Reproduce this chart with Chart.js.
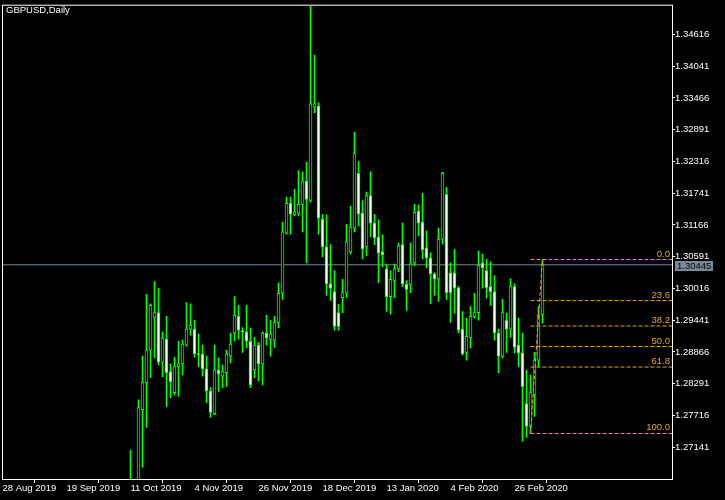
<!DOCTYPE html>
<html>
<head>
<meta charset="utf-8">
<script src="https://cdn.jsdelivr.net/npm/chart.js@4.4.1/dist/chart.umd.min.js"></script>
<style>
    html, body { margin: 0; padding: 0; background: #000; }
    #wrap { width: 725px; height: 500px; }
</style>
</head>
<body>
<div id="wrap"><canvas id="myChart" width="725" height="500"></canvas></div>
<script>
// x axis labels, one every 16 daily bars starting at bar 0 (28 Aug 2019)
const tickLabels = [
    "28 Aug 2019", "19 Sep 2019", "11 Oct 2019", "4 Nov 2019", "26 Nov 2019",
    "18 Dec 2019", "13 Jan 2020", "4 Feb 2020", "26 Feb 2020",
];
const barsPerLabel = 16;
const firstBar = 32; // 11 Oct 2019, older bars are below the visible range

// daily candles 11 Oct 2019 .. 6 Mar 2020
const opens = [
    1.2600, 1.2640, 1.2610, 1.2782, 1.2831, 1.2890, 1.2949, 1.2958,
    1.2868, 1.2910, 1.2851, 1.2813, 1.2860, 1.2865, 1.2899, 1.2928,
    1.2928, 1.2883, 1.2883, 1.2856, 1.2816, 1.2775, 1.2854, 1.2843,
    1.2849, 1.2879, 1.2921, 1.2951, 1.2924, 1.2923, 1.2906, 1.2854,
    1.2899, 1.2865, 1.2921, 1.2910, 1.2908, 1.2940, 1.2993, 1.3102,
    1.3156, 1.3135, 1.3138, 1.3154, 1.3196, 1.3161, 1.3330, 1.3332,
    1.3127, 1.3077, 1.3010, 1.2996, 1.2958, 1.2985, 1.2993, 1.3068,
    1.3111, 1.3210, 1.3138, 1.3077, 1.3170, 1.3120, 1.3095, 1.3068,
    1.3037, 1.2987, 1.3016, 1.3037, 1.3081, 1.3009, 1.3009, 1.3048,
    1.3142, 1.3122, 1.3075, 1.3057, 1.3028, 1.3019, 1.3091, 1.3172,
    1.3030, 1.3030, 1.3003, 1.2928, 1.2886, 1.2912, 1.2951, 1.2958,
    1.3048, 1.3034, 1.3005, 1.2996, 1.2921, 1.2879, 1.2944, 1.2928,
    1.3005, 1.2899, 1.2885, 1.2793, 1.2752, 1.2809, 1.2872, 1.2955,
];
const highs = [
    1.2709, 1.2650, 1.2800, 1.2879, 1.2991, 1.2974, 1.3014, 1.3002,
    1.2923, 1.2951, 1.2865, 1.2877, 1.2906, 1.2908, 1.2976, 1.2974,
    1.2944, 1.2919, 1.2899, 1.2879, 1.2822, 1.2899, 1.2876, 1.2863,
    1.2890, 1.2921, 1.2987, 1.2971, 1.2931, 1.2971, 1.2930, 1.2913,
    1.2904, 1.2923, 1.2953, 1.2944, 1.2951, 1.3012, 1.3122, 1.3167,
    1.3167, 1.3181, 1.3215, 1.3213, 1.3230, 1.3514, 1.3424, 1.3338,
    1.3136, 1.3135, 1.3081, 1.3034, 1.2973, 1.3018, 1.3118, 1.3151,
    1.3285, 1.3232, 1.3161, 1.3176, 1.3213, 1.3136, 1.3126, 1.3099,
    1.3046, 1.3034, 1.3046, 1.3084, 1.3120, 1.3016, 1.3084, 1.3154,
    1.3153, 1.3174, 1.3106, 1.3066, 1.3030, 1.3111, 1.3212, 1.3185,
    1.3048, 1.3072, 1.3005, 1.2960, 1.2948, 1.2969, 1.2993, 1.3070,
    1.3064, 1.3055, 1.3050, 1.3025, 1.2928, 1.2982, 1.2957, 1.3019,
    1.3010, 1.2948, 1.2921, 1.2854, 1.2845, 1.2886, 1.2969, 1.3054,
];
const lows = [
    1.2590, 1.2570, 1.2600, 1.2678, 1.2750, 1.2840, 1.2876, 1.2863,
    1.2842, 1.2788, 1.2804, 1.2809, 1.2806, 1.2845, 1.2897, 1.2917,
    1.2877, 1.2860, 1.2843, 1.2795, 1.2768, 1.2773, 1.2815, 1.2822,
    1.2824, 1.2867, 1.2906, 1.2910, 1.2886, 1.2894, 1.2822, 1.2840,
    1.2834, 1.2827, 1.2899, 1.2879, 1.2895, 1.2930, 1.2982, 1.3100,
    1.3100, 1.3133, 1.3133, 1.3104, 1.3048, 1.3158, 1.3320, 1.3100,
    1.3059, 1.2989, 1.2980, 1.2926, 1.2926, 1.2958, 1.2985, 1.3064,
    1.3104, 1.3115, 1.3055, 1.3061, 1.3095, 1.3081, 1.3012, 1.3041,
    1.2960, 1.2955, 1.2985, 1.3032, 1.3005, 1.2962, 1.2994, 1.3043,
    1.3097, 1.3055, 1.3039, 1.2974, 1.2989, 1.2978, 1.3082, 1.2982,
    1.2940, 1.2957, 1.2921, 1.2881, 1.2872, 1.2894, 1.2948, 1.2944,
    1.3002, 1.2984, 1.2971, 1.2908, 1.2849, 1.2876, 1.2886, 1.2913,
    1.2885, 1.2860, 1.2725, 1.2732, 1.2739, 1.2770, 1.2860, 1.2939,
];
const closes = [
    1.2640, 1.2610, 1.2786, 1.2831, 1.2890, 1.2971, 1.2958, 1.2868,
    1.2912, 1.2849, 1.2833, 1.2860, 1.2865, 1.2901, 1.2928, 1.2935,
    1.2883, 1.2882, 1.2856, 1.2816, 1.2777, 1.2854, 1.2847, 1.2851,
    1.2883, 1.2901, 1.2953, 1.2926, 1.2923, 1.2906, 1.2827, 1.2899,
    1.2865, 1.2921, 1.2912, 1.2919, 1.2940, 1.2993, 1.3104, 1.3156,
    1.3136, 1.3140, 1.3154, 1.3196, 1.3163, 1.3336, 1.3336, 1.3129,
    1.3077, 1.3010, 1.3002, 1.2933, 1.2933, 1.2994, 1.3086, 1.3113,
    1.3246, 1.3136, 1.3073, 1.3170, 1.3120, 1.3093, 1.3066, 1.3063,
    1.2987, 1.3018, 1.3037, 1.3079, 1.3010, 1.3000, 1.3046, 1.3140,
    1.3120, 1.3072, 1.3057, 1.3028, 1.3019, 1.3091, 1.3210, 1.2994,
    1.2994, 1.3002, 1.2926, 1.2883, 1.2915, 1.2951, 1.2958, 1.3043,
    1.3039, 1.3003, 1.2996, 1.2921, 1.2879, 1.2958, 1.2928, 1.3005,
    1.2895, 1.2885, 1.2824, 1.2752, 1.2813, 1.2872, 1.2953, 1.30445,
];

const priceTicks = [
    1.27141, 1.27716, 1.28291, 1.28866, 1.29441, 1.30016, 1.30591,
    1.31166, 1.31741, 1.32316, 1.32891, 1.33466, 1.34041, 1.34616,
];
const bidPrice = 1.30445;

// fibo retracement from the 3 Mar low to the 6 Mar high
const fibLevels = [0, 23.6, 38.2, 50, 61.8, 100];
const fibHigh = 1.3054;
const fibLow = 1.2739;
const fibStartBar = 132;
const fibEndBar = 135;

const GREEN = "#00ff00";
const ORANGE = "#e8a020";
const BIDGREY = "#778899";
const FONT = "9.5px 'Liberation Sans'";

const xMin = 0.125;
const xMax = 167.375;
const yMin = 1.26566;
const yMax = 1.35137;

function fibPrice(lvl) {
    return fibHigh - (fibHigh - fibLow) * lvl / 100;
}

const bodies = opens.map((o, k) => ({ x: firstBar + k, y: [o, closes[k]] }));
const wicks = lows.map((l, k) => ({ x: firstBar + k, y: [l, highs[k]] }));
const bodyFill = opens.map((o, k) => (closes[k] < o ? "#ffffff" : "#000000"));

const fibSets = fibLevels.map((lvl) => ({
    type: "line",
    data: [{ x: fibStartBar, y: fibPrice(lvl) }, { x: xMax, y: fibPrice(lvl) }],
    borderColor: ORANGE,
    borderWidth: 1,
    borderDash: [4, 2],
    pointRadius: 0,
    order: 0,
}));

const overlay = {
    id: "overlay",
    beforeDraw(chart) {
        const ctx = chart.ctx;
        ctx.save();
        ctx.fillStyle = "#000";
        ctx.fillRect(0, 0, chart.width, chart.height);
        ctx.restore();
    },
    afterDraw(chart) {
        const { ctx, chartArea: a } = chart;
        const y = chart.scales.y;
        ctx.save();
        ctx.strokeStyle = "#fff";
        ctx.lineWidth = 1;
        ctx.strokeRect(a.left - 0.5, a.top - 0.5, a.right - a.left + 1, a.bottom - a.top + 1);

        ctx.font = FONT;
        ctx.fillStyle = "#fff";
        ctx.textBaseline = "alphabetic";
        ctx.fillText("GBPUSD,Daily", 6, 13);

        // fibo level captions
        ctx.fillStyle = ORANGE;
        ctx.textAlign = "right";
        fibLevels.forEach((lvl) => {
            const py = y.getPixelForValue(fibPrice(lvl));
            ctx.fillText(lvl.toFixed(1), a.right - 2, py - 3);
        });

        // bid price box
        const by = Math.round(y.getPixelForValue(bidPrice));
        ctx.fillStyle = BIDGREY;
        ctx.fillRect(a.right + 3, by - 4, 38, 10);
        ctx.fillStyle = "#000";
        ctx.textAlign = "left";
        ctx.fillText(bidPrice.toFixed(5), a.right + 5, by + 4);
        ctx.restore();
    },
};

const config = {
    type: "bar",
    data: {
        datasets: [
            ...fibSets,
            {
                type: "line",
                data: [{ x: fibStartBar, y: fibLow }, { x: fibEndBar, y: fibHigh }],
                borderColor: ORANGE,
                borderWidth: 1,
                borderDash: [4, 2],
                pointRadius: 0,
                order: 0,
            },
            {
                data: bodies,
                backgroundColor: bodyFill,
                borderColor: GREEN,
                borderWidth: 1,
                borderSkipped: false,
                barThickness: 3,
                minBarLength: 1,
                grouped: false,
                order: 1,
            },
            {
                data: wicks,
                backgroundColor: GREEN,
                borderWidth: 0,
                barThickness: 1,
                grouped: false,
                order: 2,
            },
            {
                type: "line",
                data: [{ x: xMin, y: bidPrice }, { x: xMax, y: bidPrice }],
                borderColor: BIDGREY,
                borderWidth: 1,
                pointRadius: 0,
                order: 3,
            },
        ],
    },
    options: {
        responsive: false,
        animation: false,
        devicePixelRatio: 1,
        layout: { padding: { left: 3, top: 3, right: 0, bottom: 0 } },
        plugins: {
            legend: { display: false },
            tooltip: { enabled: false },
        },
        scales: {
            x: {
                type: "linear",
                min: xMin,
                max: xMax,
                offset: false,
                border: { display: false },
                grid: { drawOnChartArea: false, color: "#fff", tickLength: 4 },
                ticks: {
                    color: "#fff",
                    font: { family: "Liberation Sans", size: 9.5 },
                    align: "start",
                    padding: 0,
                    autoSkip: false,
                    maxRotation: 0,
                    minRotation: 0,
                    callback: (v) => tickLabels[Math.round(v / barsPerLabel)],
                },
                afterBuildTicks: (scale) => {
                    scale.ticks = tickLabels.map((_, k) => ({ value: k * barsPerLabel }));
                },
                afterFit: (scale) => {
                    scale.height = 21;
                },
            },
            y: {
                position: "right",
                min: yMin,
                max: yMax,
                border: { display: false },
                grid: { drawOnChartArea: false, color: "#fff", tickLength: 3 },
                ticks: {
                    color: "#fff",
                    font: { family: "Liberation Sans", size: 9.5 },
                    padding: 0,
                    callback: (v) => v.toFixed(5),
                },
                afterBuildTicks: (scale) => {
                    scale.ticks = priceTicks.map((v) => ({ value: v }));
                },
                afterFit: (scale) => {
                    scale.width = 53;
                },
            },
        },
    },
    plugins: [overlay],
};

const chart = new Chart(document.getElementById("myChart"), config);
</script>
</body>
</html>
